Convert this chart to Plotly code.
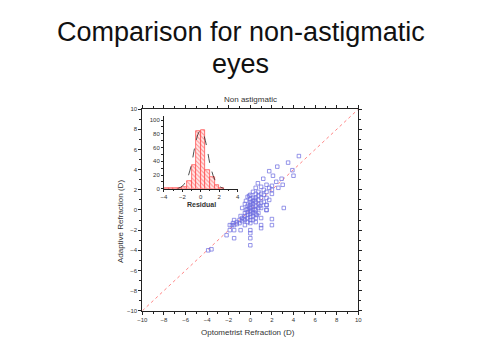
import plotly.graph_objects as go

# ---------------- data ----------------
opt_refraction = [
    -3.9, -3.6, -2.2, -1.9, -1.5, -1.5, -1.9, -1.7, -1.5, -0.9, 0.0, 0.0, 0.0, 0.0,
    1.0, 1.0, 2.0, 2.0, 3.1,
    -1.5, -1.25, -1.6, -1.25, -1.0, -1.0, -0.75, -0.75, -0.5, -0.5, -0.5, -0.5,
    -0.25, -0.25, -0.25, -0.25, -0.25, -0.25, 0.0, 0.0, 0.0, 0.0, 0.0, 0.0, 0.0, 0.0, 0.0,
    0.25, 0.25, 0.25, 0.25, 0.25, 0.25, 0.25, 0.25, 0.5, 0.5, 0.5, 0.5, 0.5, 0.5, 0.5, 0.5,
    0.75, 0.75, 0.75, 0.75, 0.75, 0.75, 1.0, 1.0, 1.0, 1.0, 1.0, 1.25, 1.25, 1.25,
    1.5, 1.5, 1.5, 1.5, 1.75, 1.75, 2.0, 2.0,
    0.7, 1.2, 1.75, 2.1, 2.4, 2.5, 2.9, 3.5, 3.9, 4.0, 4.5, 2.0, 2.6, 3.0, 1.5, 0.5,
    1.0, -0.25, -0.5, -0.75, 0.0, 0.25,
    -0.4, -0.4, -0.1, -0.1, 0.1, 0.1, 0.4, 0.4, -0.6, 0.6, 0.9, -0.9, 1.5, 1.5,
]
adapt_refraction = [
    -4.0, -3.9, -2.5, -2.0, -2.0, -2.8, -1.5, -1.5, -1.5, -2.0, -2.0, -2.3, -2.8, -3.5,
    -1.5, -1.8, -0.9, -1.5, 0.2,
    -1.0, -1.4, -1.3, -1.2, -1.0, -1.3, -1.1, -0.8, -1.5, -1.0, -0.6, -0.3,
    -1.2, -0.8, -0.5, -0.2, 0.1, 0.4, -1.3, -1.0, -0.7, -0.4, -0.1, 0.2, 0.5, 0.8, 1.1,
    -1.0, -0.6, -0.3, 0.0, 0.3, 0.6, 0.9, 1.2, -1.2, -0.8, -0.4, 0.0, 0.4, 0.8, 1.2, 1.6,
    -0.3, 0.2, 0.6, 1.0, 1.4, 1.8, -0.8, 0.2, 0.7, 1.2, 1.6, 0.8, 1.5, 2.0,
    0.0, 0.5, 1.2, 1.8, 1.0, 2.2, 1.6, 2.4,
    2.65, 3.1, 3.85, 3.4, 2.8, 4.3, 3.1, 4.7, 3.95, 3.4, 5.35, 2.0, 2.2, 2.5, 2.5, 2.2,
    2.3, 1.3, 0.6, 0.2, 1.5, 1.8,
    0.0, 0.9, 0.3, 1.4, -0.2, 0.7, 0.1, 1.0, -0.9, -0.5, 0.4, -0.6, 0.5, 0.0,
]

identity_x = [-10, 10]
identity_y = [-10, 10]

# residual histogram (bin centres, counts)
residual_bins = [-3.75, -3.25, -2.75, -2.25, -1.75, -1.25, -0.75, -0.25, 0.25, 0.75, 1.25, 1.75, 2.25]
residual_counts = [1.5, 1.5, 1.5, 1.5, 3, 12, 34, 84, 85, 27, 17, 5, 1.5]

# fitted curve
fit_x = [-2.5, -2.0, -1.5, -1.0, -0.75, -0.5, -0.25, 0.0, 0.25, 0.5, 0.75, 1.0, 1.5, 2.0, 2.5]
fit_y = [0.5, 4, 14, 36, 54, 70, 81, 85, 81, 70, 54, 36, 14, 4, 0.5]

main_ticks = [-10, -8, -6, -4, -2, 0, 2, 4, 6, 8, 10]
inset_xticks = [-4, -2, 0, 2, 4]
inset_yticks = [0, 20, 40, 60, 80, 100]

# ---------------- figure ----------------
W, H = 480, 360
FONT = "Liberation Sans, Arial, sans-serif"
TICKCOL = "#333333"

fig = go.Figure()

fig.add_trace(go.Scatter(
    x=identity_x, y=identity_y, mode="lines",
    line=dict(color="#ff7777", width=0.9, dash="dot"),
    xaxis="x", yaxis="y", showlegend=False, hoverinfo="skip"))

fig.add_trace(go.Scatter(
    x=opt_refraction, y=adapt_refraction, mode="markers",
    marker=dict(symbol="square-open", size=3.5, color="#6a6ae0", line=dict(width=0.7)),
    xaxis="x", yaxis="y", showlegend=False))

fig.add_trace(go.Bar(
    x=residual_bins, y=residual_counts, width=0.5,
    marker=dict(color="white", line=dict(color="#ff4040", width=0.7),
                pattern=dict(shape="\\", fgcolor="#ff4040", bgcolor="#ffe8e8", size=3, solidity=0.35)),
    xaxis="x2", yaxis="y2", showlegend=False))

fig.add_trace(go.Scatter(
    x=fit_x, y=fit_y, mode="lines",
    line=dict(color="#222222", width=0.8, dash="dash", shape="spline"),
    xaxis="x2", yaxis="y2", showlegend=False, hoverinfo="skip"))

axis_common = dict(showgrid=False, zeroline=False, showline=True, linecolor="#222222",
                   linewidth=1, tickcolor="#222222", tickfont=dict(family=FONT, size=6, color=TICKCOL))

fig.update_layout(
    width=W, height=H,
    margin=dict(l=0, r=0, t=0, b=0),
    paper_bgcolor="white", plot_bgcolor="white",
    bargap=0,
    xaxis=dict(domain=[140 / W, 360 / W], range=[-10, 10], tickvals=main_ticks,
               ticks="outside", ticklen=3, mirror="ticks", anchor="y",
               minor=dict(ticks="outside", ticklen=2, dtick=1, tickcolor="#222222"),
               **axis_common),
    yaxis=dict(domain=[1 - 313 / H, 1 - 108 / H], range=[-10, 10], tickvals=main_ticks,
               ticks="outside", ticklen=3, mirror="ticks", anchor="x",
               minor=dict(ticks="outside", ticklen=2, dtick=1, tickcolor="#222222"),
               **axis_common),
    xaxis2=dict(domain=[162 / W, 237 / W], range=[-4, 4], tickvals=inset_xticks,
                ticks="outside", ticklen=2, anchor="y2",
                minor=dict(ticks="outside", ticklen=1.5, dtick=1, tickcolor="#222222"),
                **axis_common),
    yaxis2=dict(domain=[1 - 189 / H, 1 - 115 / H], range=[0, 105.7], tickvals=inset_yticks,
                ticks="outside", ticklen=2, anchor="x2",
                minor=dict(ticks="outside", ticklen=1.5, dtick=10, tickcolor="#222222"),
                **axis_common),
)

annotations = [
    dict(text="Comparison for non-astigmatic", x=240 / W, y=1 - 29 / H, font=dict(size=27)),
    dict(text="eyes", x=240 / W, y=1 - 62 / H, font=dict(size=27)),
    dict(text="Non astigmatic", x=250 / W, y=1 - 98 / H, font=dict(size=8)),
    dict(text="Optometrist Refraction (D)", x=248 / W, y=1 - 335 / H, font=dict(size=8)),
    dict(text="Adaptive Refraction (D)", x=118 / W, y=1 - 222 / H, font=dict(size=8), textangle=-90),
    dict(text="<b>Residual</b>", x=200 / W, y=1 - 205 / H, font=dict(size=7)),
]
for a in annotations:
    a.update(xref="paper", yref="paper", showarrow=False, xanchor="center", yanchor="middle")
    a["font"].update(family=FONT, color="#111111" if a["font"]["size"] > 20 else "#333333")
fig.update_layout(annotations=annotations)

fig.write_html("out.html", config={"displayModeBar": False},
               post_script="document.body.style.margin='0';document.body.style.overflow='hidden';")
